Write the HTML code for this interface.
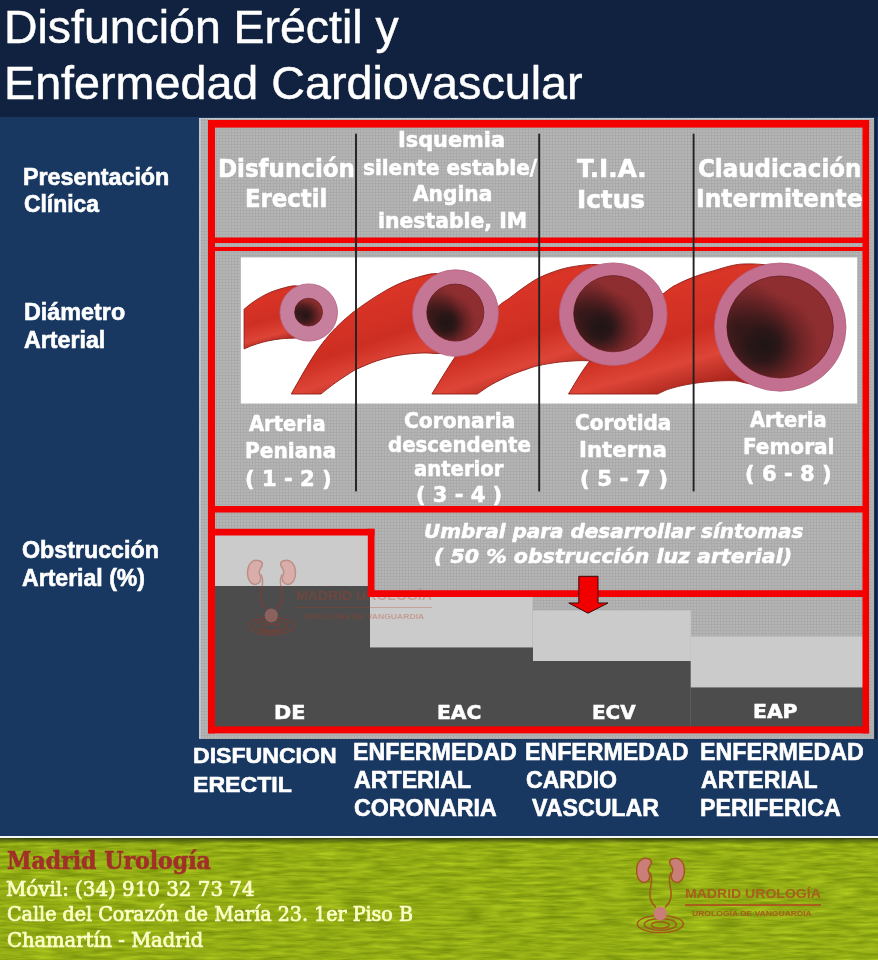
<!DOCTYPE html><html lang="es"><head><meta charset="utf-8"><title>Disfunción Eréctil y Enfermedad Cardiovascular</title><style>
*{margin:0;padding:0;box-sizing:border-box}
html,body{width:878px;height:960px;overflow:hidden;background:#183862}
#pg{position:relative;width:878px;height:960px;overflow:hidden;background:#183862}
.a{position:absolute}
.t{position:absolute;white-space:pre;line-height:1;transform-origin:0 0;z-index:5}
.r{position:absolute;background:#f30000;z-index:4}
.vl{position:absolute;background:#222;width:1.9px;top:133.7px;height:357.7px;z-index:4}
</style></head><body><div id="pg">
<div class="a" style="left:0;top:0;width:878px;height:117.4px;background:#10223f"></div>
<div class="a" style="left:874.5px;top:117px;width:2px;height:622px;background:#0e2140"></div>
<div class="a" style="left:199px;top:117.8px;width:674.5px;height:621px;background:#aaaaaa radial-gradient(circle at 1px 1px,#b5b5b5 0.9px,rgba(181,181,181,0) 1.4px) 0 0/3px 3px;box-shadow:inset 2px 0 0 rgba(225,232,245,0.35),inset 0 1px 0 rgba(225,232,245,0.3)"></div>
<svg class="a" style="left:0;top:0;z-index:1" width="878" height="960" viewBox="0 0 878 960"><rect x="214" y="535" width="154.00" height="51.00" fill="#cbcbcb"/><rect x="214" y="586" width="156.00" height="141.00" fill="#4c4c4c"/><rect x="370" y="596" width="162.50" height="51.50" fill="#cbcbcb"/><rect x="370" y="647.5" width="163.00" height="79.50" fill="#4c4c4c"/><rect x="533" y="610.4" width="157.80" height="50.60" fill="#cbcbcb"/><rect x="533" y="661" width="157.80" height="66.00" fill="#4c4c4c"/><rect x="690.8" y="636.5" width="172.20" height="51.00" fill="#cbcbcb"/><rect x="690.8" y="687.5" width="172.20" height="39.50" fill="#4c4c4c"/><rect x="240.8" y="257.4" width="616.40" height="146.10" fill="#ffffff"/></svg>
<svg class="a" style="left:0;top:0;z-index:4" width="878" height="960" viewBox="0 0 878 960"><g fill="#f30000"><rect x="208" y="120" width="661.10" height="7.60"/><rect x="208" y="726.4" width="661.10" height="7.00"/><rect x="208" y="120" width="7.00" height="613.40"/><rect x="862.5" y="120" width="6.60" height="613.40"/><rect x="214" y="237.5" width="649.00" height="5.50"/><rect x="214" y="247" width="649.00" height="4.00"/><rect x="214" y="506" width="649.00" height="6.50"/><rect x="214" y="528.8" width="160.50" height="6.70"/><rect x="367.8" y="528.8" width="6.70" height="68.20"/><rect x="367.8" y="590.2" width="495.20" height="6.80"/></g><rect x="355.05" y="133.7" width="1.9" height="357.7" fill="#222"/><rect x="538.25" y="133.7" width="1.9" height="357.7" fill="#222"/><rect x="692.65" y="133.7" width="1.9" height="357.7" fill="#222"/></svg>
<svg class="a" style="left:0;top:0;z-index:2" width="878" height="960" viewBox="0 0 878 960"><defs>
<linearGradient id="tg1" x1="0" y1="0" x2="0.25" y2="1"><stop offset="0" stop-color="#a9241b"/><stop offset="0.25" stop-color="#d93426"/><stop offset="0.6" stop-color="#cf2f23"/><stop offset="0.85" stop-color="#dc4436"/><stop offset="1" stop-color="#a5221a"/></linearGradient>
<linearGradient id="tg2" x1="0.1" y1="0" x2="0.55" y2="1"><stop offset="0" stop-color="#a9241b"/><stop offset="0.3" stop-color="#da3527"/><stop offset="0.62" stop-color="#cd2e22"/><stop offset="0.8" stop-color="#dd4537"/><stop offset="1" stop-color="#a8231b"/></linearGradient>
<radialGradient id="lum" cx="0.34" cy="0.68" r="0.6"><stop offset="0" stop-color="#1b1415"/><stop offset="0.25" stop-color="#2c1718"/><stop offset="0.6" stop-color="#6e2426"/><stop offset="0.85" stop-color="#8c2d2f"/><stop offset="1" stop-color="#8f2e30"/></radialGradient>
<radialGradient id="lum2" cx="0.08" cy="0.5" r="0.5"><stop offset="0" stop-color="#281516" stop-opacity="0.75"/><stop offset="1" stop-color="#281516" stop-opacity="0"/></radialGradient>
<radialGradient id="lums" cx="0.4" cy="0.62" r="0.6"><stop offset="0" stop-color="#1d1516"/><stop offset="0.45" stop-color="#4a1c1e"/><stop offset="1" stop-color="#8e2e2f"/></radialGradient>
</defs><path d="M568.5,394.0C571.9,388.7 580.4,373.0 589.0,362.0C597.6,351.0 607.4,339.6 620.0,328.0C632.6,316.4 655.3,299.8 664.8,292.6C674.2,285.4 671.7,287.3 676.7,284.6C681.7,281.9 688.8,278.9 694.9,276.6C701.0,274.3 705.9,272.9 713.1,270.9C720.3,268.9 729.5,265.4 738.3,264.4C747.1,263.4 759.1,264.0 765.7,264.9C772.3,265.8 776.0,269.1 778.0,270.0L778.0,384.0C775.8,384.3 770.0,386.1 765.0,386.0C760.0,385.9 752.9,384.4 748.0,383.5C743.1,382.6 740.0,381.2 735.7,380.8C731.4,380.4 726.6,380.7 722.0,380.8C717.4,380.9 713.1,381.2 708.3,381.7C703.5,382.1 697.8,382.8 693.3,383.5C688.8,384.2 685.3,384.8 681.0,385.8C676.7,386.8 671.2,388.2 667.3,389.6C663.4,391.0 659.4,393.3 657.8,394.0Z" fill="url(#tg2)" stroke="#8f1d16" stroke-width="0.9"/><ellipse cx="780.2" cy="327.1" rx="65.8" ry="64.1" fill="#c36f8f" stroke="#b5607f" stroke-width="0.8"/><ellipse cx="780.1" cy="327" rx="53.2" ry="51" fill="url(#lum)" stroke="#6a1f24" stroke-width="0.8"/><ellipse cx="780.1" cy="327" rx="53.2" ry="51" fill="url(#lum2)"/><path d="M431.9,394.0C435.7,387.9 447.5,368.2 454.7,357.5C461.9,346.8 467.7,338.5 475.0,330.0C482.3,321.5 492.7,311.6 498.4,306.3C504.1,301.0 505.2,301.4 509.3,298.3C513.4,295.2 518.0,291.4 523.0,288.0C528.0,284.6 532.9,280.8 539.0,277.8C545.1,274.8 553.0,271.8 559.5,269.8C566.0,267.8 571.6,266.8 577.7,265.9C583.8,265.0 590.5,264.2 595.9,264.6C601.3,265.0 607.6,267.4 610.0,268.0L612.0,358.0C610.0,358.6 605.0,361.1 600.0,361.5C595.0,361.9 589.0,360.5 582.2,360.6C575.5,360.7 566.7,361.3 559.5,362.1C552.3,362.9 544.3,364.4 539.0,365.5C533.7,366.6 532.6,367.2 527.6,368.9C522.6,370.6 515.4,373.0 509.3,375.7C503.2,378.4 496.4,381.8 491.1,384.8C485.8,387.9 479.7,392.5 477.4,394.0Z" fill="url(#tg2)" stroke="#8f1d16" stroke-width="0.9"/><ellipse cx="613.2" cy="314.2" rx="53.9" ry="51.3" fill="#c47191" stroke="#b5607f" stroke-width="0.8"/><ellipse cx="613.2" cy="313.7" rx="39.5" ry="38.1" fill="url(#lum)" stroke="#6a1f24" stroke-width="0.8"/><ellipse cx="613.2" cy="313.7" rx="39.5" ry="38.1" fill="url(#lum2)"/><path d="M291.3,394.0C294.1,389.1 303.2,372.7 308.3,364.3C313.4,355.9 317.4,349.9 322.0,343.8C326.6,337.7 331.1,332.6 335.7,327.9C340.2,323.2 345.7,318.5 349.3,315.4C352.9,312.3 352.7,312.4 357.3,309.2C361.9,306.0 369.7,300.3 376.7,296.0C383.7,291.7 391.9,286.8 399.5,283.5C407.1,280.2 416.1,277.6 422.2,276.0C428.3,274.4 431.3,273.6 435.9,273.6C440.5,273.6 447.6,275.6 450.0,276.0L452.0,350.0C450.0,350.6 445.0,352.9 440.0,353.4C435.0,353.9 428.9,352.7 422.2,353.0C415.4,353.3 407.1,353.9 399.5,355.2C391.9,356.5 383.7,358.6 376.7,360.9C369.7,363.2 361.9,366.8 357.3,368.9C352.7,371.0 352.9,371.2 349.3,373.5C345.7,375.8 340.4,379.2 335.7,382.6C331.0,386.0 323.4,392.1 320.9,394.0Z" fill="url(#tg2)" stroke="#8f1d16" stroke-width="0.9"/><ellipse cx="455.5" cy="313.1" rx="43" ry="43.3" fill="#c57694" stroke="#b5607f" stroke-width="0.8"/><ellipse cx="455.3" cy="312.6" rx="28.5" ry="28.5" fill="url(#lum)" stroke="#6a1f24" stroke-width="0.8"/><ellipse cx="455.3" cy="312.6" rx="28.5" ry="28.5" fill="url(#lum2)"/><path d="M244.1,309.2C245.7,307.9 249.8,304.3 253.7,301.7C257.6,299.1 262.8,295.9 267.3,293.7C271.9,291.5 276.4,290.0 281.0,288.7C285.6,287.4 290.9,285.9 294.7,285.8C298.5,285.7 302.4,287.6 304.0,288.0L304.0,337.0C302.4,337.2 298.5,337.8 294.7,338.1C290.9,338.4 285.6,338.3 281.0,338.8C276.4,339.3 271.9,340.1 267.3,341.1C262.8,342.1 257.6,343.7 253.7,345.0C249.8,346.3 245.7,348.2 244.1,348.9Z" fill="url(#tg1)" stroke="#8f1d16" stroke-width="0.9"/><ellipse cx="308.7" cy="312.5" rx="28.8" ry="28.6" fill="#c67f9d" stroke="#b5607f" stroke-width="0.8"/><ellipse cx="308.6" cy="312.2" rx="13.9" ry="13.9" fill="url(#lums)" stroke="#6a1f24" stroke-width="0.8"/><ellipse cx="308.6" cy="312.2" rx="13.9" ry="13.9" fill="url(#lum2)"/></svg>
<svg class="a" style="left:560px;top:570px;z-index:6" width="60" height="50" viewBox="560 570 60 50"><path d="M578.8,576.3H598V603H608L588,613.2L568.8,603H578.8Z" fill="#f20000" stroke="#3a0808" stroke-width="1"/></svg>
<svg class="a" style="left:630px;top:852px;z-index:6;opacity:1" width="60" height="84" viewBox="630 852 60 84"><g fill="#c97f78" stroke="#a25a1a" stroke-width="1.5" stroke-linecap="round" stroke-linejoin="round"><path d="M647.5,858.6c-5-1.6-10.2,2.4-10.9,10.4c-.7,7.6,2.6,13.2,7.2,13.4c3.8,.1,6.1-2.8,6-6.4c-.1-2.4-1.6-3.6-1.6-6c0-3.4,3.4-5.2,3.2-8.2c-.1-1.6-1.6-2.7-3.9-3.2Z"/><path d="M673.5,858.6c5-1.6,10.2,2.4,10.9,10.4c.7,7.6-2.6,13.2-7.2,13.4c-3.8,.1-6.1-2.8-6-6.4c.1-2.4,1.6-3.6,1.6-6c0-3.4-3.4-5.2-3.2-8.2c.1-1.6,1.6-2.7,3.9-3.2Z"/><path d="M650.3,873c1.6,3,1.6,5.5,1.2,9c-.6,5.5-2.4,10-1.4,15.5c.6,3.4,2.4,6.5,5.4,9.6" fill="none"/><path d="M670.7,873c-1.600,3-1.600,5.500-1.200,9c.6,5.500,2.400,10,1.400,15.500c-.6,3.400-2.400,6.500-5.400,9.600" fill="none"/><ellipse cx="660.3" cy="924" rx="23" ry="8.6" fill="none"/><ellipse cx="660.3" cy="924.4" rx="16" ry="5.8" fill="none"/><ellipse cx="660.3" cy="925" rx="9" ry="3.2" fill="none"/><ellipse cx="660.3" cy="913.4" rx="6.6" ry="7" stroke="none"/></g></svg>
<div class="a" style="left:685px;top:904.4px;width:136px;height:1.4px;background:#a85e1c;z-index:6"></div>
<svg class="a" style="left:241.39999999999998px;top:554.0px;z-index:3;opacity:0.39" width="60" height="84" viewBox="630 852 60 84"><g fill="#f08179" stroke="#a8321e" stroke-width="1.5" stroke-linecap="round" stroke-linejoin="round"><path d="M647.5,858.6c-5-1.6-10.2,2.4-10.9,10.4c-.7,7.6,2.6,13.2,7.2,13.4c3.8,.1,6.1-2.8,6-6.4c-.1-2.4-1.6-3.6-1.6-6c0-3.4,3.4-5.2,3.2-8.2c-.1-1.6-1.6-2.7-3.9-3.2Z"/><path d="M673.5,858.6c5-1.6,10.2,2.4,10.9,10.4c.7,7.6-2.6,13.2-7.2,13.4c-3.8,.1-6.1-2.8-6-6.4c.1-2.4,1.6-3.6,1.6-6c0-3.4-3.4-5.2-3.2-8.2c.1-1.6,1.6-2.7,3.9-3.2Z"/><path d="M650.3,873c1.6,3,1.6,5.5,1.2,9c-.6,5.5-2.4,10-1.4,15.5c.6,3.4,2.4,6.5,5.4,9.6" fill="none"/><path d="M670.7,873c-1.600,3-1.600,5.500-1.200,9c.6,5.500,2.400,10,1.400,15.500c-.6,3.400-2.400,6.500-5.400,9.600" fill="none"/><ellipse cx="660.3" cy="924" rx="23" ry="8.6" fill="none"/><ellipse cx="660.3" cy="924.4" rx="16" ry="5.8" fill="none"/><ellipse cx="660.3" cy="925" rx="9" ry="3.2" fill="none"/><ellipse cx="660.3" cy="913.4" rx="6.6" ry="7" stroke="none"/></g></svg>
<div class="a" style="left:296px;top:607px;width:136px;height:1.2px;background:rgba(188,59,33,0.3);z-index:3"></div>
<div class="a" style="left:0;top:835.5px;width:878px;height:2.6px;background:#f4f6f8;z-index:2"></div>
<div class="a" style="left:0;top:838px;width:878px;height:122px;background:#93ad14;z-index:1"></div>
<svg class="a" style="left:0;top:838px;z-index:2" width="878" height="122"><defs><filter id="nz" x="0" y="0" width="100%" height="100%" color-interpolation-filters="sRGB"><feTurbulence type="fractalNoise" baseFrequency="0.035 0.28" numOctaves="3" seed="11"/><feColorMatrix type="matrix" values="0.3 0 0 0 0.425  0.3 0 0 0 0.525  0.1 0 0 0 0.03  0 0 0 0 1"/></filter><linearGradient id="sh" x1="0" y1="0" x2="0" y2="1"><stop offset="0" stop-color="#1c2a08" stop-opacity="0.8"/><stop offset="1" stop-color="#1c2a08" stop-opacity="0"/></linearGradient></defs><rect width="878" height="122" filter="url(#nz)"/><rect width="878" height="6" fill="url(#sh)"/></svg>
<span class="t" style="left:4.46px;top:3.20px;font:normal normal 47px/1 'Liberation Sans', sans-serif;color:#fff;transform:scaleX(0.9876);-webkit-text-stroke:0.5px #fff;">Disfunción Eréctil y</span>
<span class="t" style="left:4.44px;top:58.80px;font:normal normal 47px/1 'Liberation Sans', sans-serif;color:#fff;transform:scaleX(0.9932);-webkit-text-stroke:0.5px #fff;">Enfermedad Cardiovascular</span>
<span class="t" style="left:23.34px;top:165.50px;font:normal bold 23.4px/1 'Liberation Sans', sans-serif;color:#fff;transform:scaleX(0.9961);-webkit-text-stroke:0.6px #fff;">Presentación</span>
<span class="t" style="left:23.87px;top:193.00px;font:normal bold 23.4px/1 'Liberation Sans', sans-serif;color:#fff;transform:scaleX(0.9778);-webkit-text-stroke:0.6px #fff;">Clínica</span>
<span class="t" style="left:23.54px;top:301.00px;font:normal bold 23.4px/1 'Liberation Sans', sans-serif;color:#fff;transform:scaleX(0.9975);-webkit-text-stroke:0.6px #fff;">Diámetro</span>
<span class="t" style="left:23.60px;top:329.00px;font:normal bold 23.4px/1 'Liberation Sans', sans-serif;color:#fff;transform:scaleX(0.9923);-webkit-text-stroke:0.6px #fff;">Arterial</span>
<span class="t" style="left:21.86px;top:538.50px;font:normal bold 23.4px/1 'Liberation Sans', sans-serif;color:#fff;transform:scaleX(0.9935);-webkit-text-stroke:0.6px #fff;">Obstrucción</span>
<span class="t" style="left:22.10px;top:567.20px;font:normal bold 23.4px/1 'Liberation Sans', sans-serif;color:#fff;transform:scaleX(0.9861);-webkit-text-stroke:0.6px #fff;">Arterial (%)</span>
<span class="t" style="left:217.68px;top:156.50px;font:normal bold 24px/1 'DejaVu Sans Condensed', 'DejaVu Sans', sans-serif;color:#fff;transform:scaleX(1.0640);-webkit-text-stroke:0.5px #fff;">Disfunción</span>
<span class="t" style="left:245.20px;top:187.20px;font:normal bold 24px/1 'DejaVu Sans Condensed', 'DejaVu Sans', sans-serif;color:#fff;transform:scaleX(1.0564);-webkit-text-stroke:0.5px #fff;">Erectil</span>
<span class="t" style="left:397.88px;top:129.00px;font:normal bold 21.5px/1 'DejaVu Sans Condensed', 'DejaVu Sans', sans-serif;color:#fff;transform:scaleX(1.0784);-webkit-text-stroke:0.5px #fff;">Isquemia</span>
<span class="t" style="left:363.23px;top:156.50px;font:normal bold 21.5px/1 'DejaVu Sans Condensed', 'DejaVu Sans', sans-serif;color:#fff;transform:scaleX(1.0338);-webkit-text-stroke:0.5px #fff;">silente estable/</span>
<span class="t" style="left:412.85px;top:182.50px;font:normal bold 21.5px/1 'DejaVu Sans Condensed', 'DejaVu Sans', sans-serif;color:#fff;transform:scaleX(1.0435);-webkit-text-stroke:0.5px #fff;">Angina</span>
<span class="t" style="left:377.76px;top:209.50px;font:normal bold 21.5px/1 'DejaVu Sans Condensed', 'DejaVu Sans', sans-serif;color:#fff;transform:scaleX(1.0539);-webkit-text-stroke:0.5px #fff;">inestable, IM</span>
<span class="t" style="left:577.24px;top:157.30px;font:normal bold 24px/1 'DejaVu Sans Condensed', 'DejaVu Sans', sans-serif;color:#fff;transform:scaleX(1.1446);-webkit-text-stroke:0.5px #fff;">T.I.A.</span>
<span class="t" style="left:576.85px;top:188.10px;font:normal bold 24px/1 'DejaVu Sans Condensed', 'DejaVu Sans', sans-serif;color:#fff;transform:scaleX(1.1453);-webkit-text-stroke:0.5px #fff;">Ictus</span>
<span class="t" style="left:697.96px;top:156.70px;font:normal bold 24px/1 'DejaVu Sans Condensed', 'DejaVu Sans', sans-serif;color:#fff;transform:scaleX(1.0620);-webkit-text-stroke:0.5px #fff;">Claudicación</span>
<span class="t" style="left:696.16px;top:187.20px;font:normal bold 24px/1 'DejaVu Sans Condensed', 'DejaVu Sans', sans-serif;color:#fff;transform:scaleX(1.0791);-webkit-text-stroke:0.5px #fff;">Intermitente</span>
<span class="t" style="left:249.36px;top:413.10px;font:normal bold 21.5px/1 'DejaVu Sans Condensed', 'DejaVu Sans', sans-serif;color:#fff;transform:scaleX(1.0075);-webkit-text-stroke:0.5px #fff;">Arteria</span>
<span class="t" style="left:245.43px;top:440.10px;font:normal bold 21.5px/1 'DejaVu Sans Condensed', 'DejaVu Sans', sans-serif;color:#fff;transform:scaleX(1.0423);-webkit-text-stroke:0.5px #fff;">Peniana</span>
<span class="t" style="left:244.61px;top:467.60px;font:normal bold 21.5px/1 'DejaVu Sans Condensed', 'DejaVu Sans', sans-serif;color:#fff;transform:scaleX(1.0901);-webkit-text-stroke:0.5px #fff;">( 1 - 2 )</span>
<span class="t" style="left:403.76px;top:410.10px;font:normal bold 21.5px/1 'DejaVu Sans Condensed', 'DejaVu Sans', sans-serif;color:#fff;transform:scaleX(1.0458);-webkit-text-stroke:0.5px #fff;">Coronaria</span>
<span class="t" style="left:388.16px;top:433.80px;font:normal bold 21.5px/1 'DejaVu Sans Condensed', 'DejaVu Sans', sans-serif;color:#fff;transform:scaleX(1.0214);-webkit-text-stroke:0.5px #fff;">descendente</span>
<span class="t" style="left:413.88px;top:457.60px;font:normal bold 21.5px/1 'DejaVu Sans Condensed', 'DejaVu Sans', sans-serif;color:#fff;transform:scaleX(1.0149);-webkit-text-stroke:0.5px #fff;">anterior</span>
<span class="t" style="left:416.43px;top:483.60px;font:normal bold 21.5px/1 'DejaVu Sans Condensed', 'DejaVu Sans', sans-serif;color:#fff;transform:scaleX(1.0823);-webkit-text-stroke:0.5px #fff;">( 3 - 4 )</span>
<span class="t" style="left:575.47px;top:412.10px;font:normal bold 21.5px/1 'DejaVu Sans Condensed', 'DejaVu Sans', sans-serif;color:#fff;transform:scaleX(1.0353);-webkit-text-stroke:0.5px #fff;">Corotida</span>
<span class="t" style="left:579.14px;top:439.10px;font:normal bold 21.5px/1 'DejaVu Sans Condensed', 'DejaVu Sans', sans-serif;color:#fff;transform:scaleX(1.1019);-webkit-text-stroke:0.5px #fff;">Interna</span>
<span class="t" style="left:579.59px;top:467.60px;font:normal bold 21.5px/1 'DejaVu Sans Condensed', 'DejaVu Sans', sans-serif;color:#fff;transform:scaleX(1.1057);-webkit-text-stroke:0.5px #fff;">( 5 - 7 )</span>
<span class="t" style="left:750.36px;top:408.80px;font:normal bold 21.5px/1 'DejaVu Sans Condensed', 'DejaVu Sans', sans-serif;color:#fff;transform:scaleX(1.0075);-webkit-text-stroke:0.5px #fff;">Arteria</span>
<span class="t" style="left:742.64px;top:435.60px;font:normal bold 21.5px/1 'DejaVu Sans Condensed', 'DejaVu Sans', sans-serif;color:#fff;transform:scaleX(1.0379);-webkit-text-stroke:0.5px #fff;">Femoral</span>
<span class="t" style="left:745.22px;top:462.60px;font:normal bold 21.5px/1 'DejaVu Sans Condensed', 'DejaVu Sans', sans-serif;color:#fff;transform:scaleX(1.0888);-webkit-text-stroke:0.5px #fff;">( 6 - 8 )</span>
<span class="t" style="left:423.52px;top:521.50px;font:italic bold 19.6px/1 'DejaVu Sans Condensed', 'DejaVu Sans', sans-serif;color:#fff;transform:scaleX(1.1327);-webkit-text-stroke:0.5px #fff;">Umbral para desarrollar síntomas</span>
<span class="t" style="left:433.92px;top:547.30px;font:italic bold 19.6px/1 'DejaVu Sans Condensed', 'DejaVu Sans', sans-serif;color:#fff;transform:scaleX(1.1627);-webkit-text-stroke:0.5px #fff;">( 50 % obstrucción luz arterial)</span>
<span class="t" style="left:273.88px;top:703.10px;font:normal bold 19.6px/1 'DejaVu Sans Condensed', 'DejaVu Sans', sans-serif;color:#fff;transform:scaleX(1.1744);-webkit-text-stroke:0.5px #fff;">DE</span>
<span class="t" style="left:437.21px;top:703.10px;font:normal bold 19.6px/1 'DejaVu Sans Condensed', 'DejaVu Sans', sans-serif;color:#fff;transform:scaleX(1.1496);-webkit-text-stroke:0.5px #fff;">EAC</span>
<span class="t" style="left:592.24px;top:703.10px;font:normal bold 19.6px/1 'DejaVu Sans Condensed', 'DejaVu Sans', sans-serif;color:#fff;transform:scaleX(1.1298);-webkit-text-stroke:0.5px #fff;">ECV</span>
<span class="t" style="left:752.81px;top:701.80px;font:normal bold 19.6px/1 'DejaVu Sans Condensed', 'DejaVu Sans', sans-serif;color:#fff;transform:scaleX(1.1529);-webkit-text-stroke:0.5px #fff;">EAP</span>
<span class="t" style="left:192.80px;top:745.30px;font:normal bold 22.2px/1 'Liberation Sans', sans-serif;color:#fff;transform:scaleX(1.0407);-webkit-text-stroke:0.6px #fff;">DISFUNCION</span>
<span class="t" style="left:192.80px;top:773.50px;font:normal bold 22.2px/1 'Liberation Sans', sans-serif;color:#fff;transform:scaleX(1.0407);-webkit-text-stroke:0.6px #fff;">ERECTIL</span>
<span class="t" style="left:353.24px;top:740.50px;font:normal bold 23.3px/1 'Liberation Sans', sans-serif;color:#fff;transform:scaleX(0.9956);-webkit-text-stroke:0.6px #fff;">ENFERMEDAD</span>
<span class="t" style="left:353.59px;top:769.00px;font:normal bold 23.3px/1 'Liberation Sans', sans-serif;color:#fff;transform:scaleX(0.9953);-webkit-text-stroke:0.6px #fff;">ARTERIAL</span>
<span class="t" style="left:353.86px;top:797.20px;font:normal bold 23.3px/1 'Liberation Sans', sans-serif;color:#fff;transform:scaleX(0.9934);-webkit-text-stroke:0.6px #fff;">CORONARIA</span>
<span class="t" style="left:525.24px;top:740.50px;font:normal bold 23.3px/1 'Liberation Sans', sans-serif;color:#fff;transform:scaleX(0.9944);-webkit-text-stroke:0.6px #fff;">ENFERMEDAD</span>
<span class="t" style="left:526.36px;top:768.50px;font:normal bold 23.3px/1 'Liberation Sans', sans-serif;color:#fff;transform:scaleX(0.9901);-webkit-text-stroke:0.6px #fff;">CARDIO</span>
<span class="t" style="left:532.36px;top:796.80px;font:normal bold 23.3px/1 'Liberation Sans', sans-serif;color:#fff;transform:scaleX(0.9943);-webkit-text-stroke:0.6px #fff;">VASCULAR</span>
<span class="t" style="left:700.04px;top:740.50px;font:normal bold 23.3px/1 'Liberation Sans', sans-serif;color:#fff;transform:scaleX(0.9956);-webkit-text-stroke:0.6px #fff;">ENFERMEDAD</span>
<span class="t" style="left:700.60px;top:769.00px;font:normal bold 23.3px/1 'Liberation Sans', sans-serif;color:#fff;transform:scaleX(0.9893);-webkit-text-stroke:0.6px #fff;">ARTERIAL</span>
<span class="t" style="left:700.04px;top:797.20px;font:normal bold 23.3px/1 'Liberation Sans', sans-serif;color:#fff;transform:scaleX(0.9982);-webkit-text-stroke:0.6px #fff;">PERIFERICA</span>
<span class="t" style="left:7.33px;top:849.00px;font:normal bold 24.7px/1 'DejaVu Serif Condensed', 'DejaVu Serif', 'Liberation Serif', serif;color:#a03028;transform:scaleX(0.9924);-webkit-text-stroke:0.55px #a03028;">Madrid Urología</span>
<span class="t" style="left:6.18px;top:878.80px;font:normal normal 21px/1 'DejaVu Serif Condensed', 'DejaVu Serif', 'Liberation Serif', serif;color:#fcfec8;transform:scaleX(1.0497);-webkit-text-stroke:0.7px #fcfec8;">Móvil: (34) 910 32 73 74</span>
<span class="t" style="left:7.06px;top:903.90px;font:normal normal 21px/1 'DejaVu Serif Condensed', 'DejaVu Serif', 'Liberation Serif', serif;color:#fcfec8;transform:scaleX(1.0096);-webkit-text-stroke:0.7px #fcfec8;">Calle del Corazón de María 23. 1er Piso B</span>
<span class="t" style="left:7.04px;top:929.90px;font:normal normal 21px/1 'DejaVu Serif Condensed', 'DejaVu Serif', 'Liberation Serif', serif;color:#fcfec8;transform:scaleX(1.0322);-webkit-text-stroke:0.7px #fcfec8;">Chamartín - Madrid</span>
<span class="t" style="left:684.61px;top:886.50px;font:normal bold 13px/1 'Liberation Sans', sans-serif;color:#a85e1c;transform:scaleX(1.0810);">MADRID UROLOGÍA</span>
<span class="t" style="left:692.43px;top:910.20px;font:normal bold 8px/1 'Liberation Sans', sans-serif;color:#a85e1c;transform:scaleX(1.0690);">UROLOGÍA DE VANGUARDIA</span>
<span class="t" style="left:296.11px;top:588.50px;font:normal bold 13px/1 'Liberation Sans', sans-serif;color:rgba(188,59,33,0.3);transform:scaleX(1.0810);z-index:3;">MADRID UROLOGÍA</span>
<span class="t" style="left:303.93px;top:612.70px;font:normal bold 8px/1 'Liberation Sans', sans-serif;color:rgba(188,59,33,0.32);transform:scaleX(1.0735);z-index:3;">UROLOGÍA DE VANGUARDIA</span>
</div></body></html>
